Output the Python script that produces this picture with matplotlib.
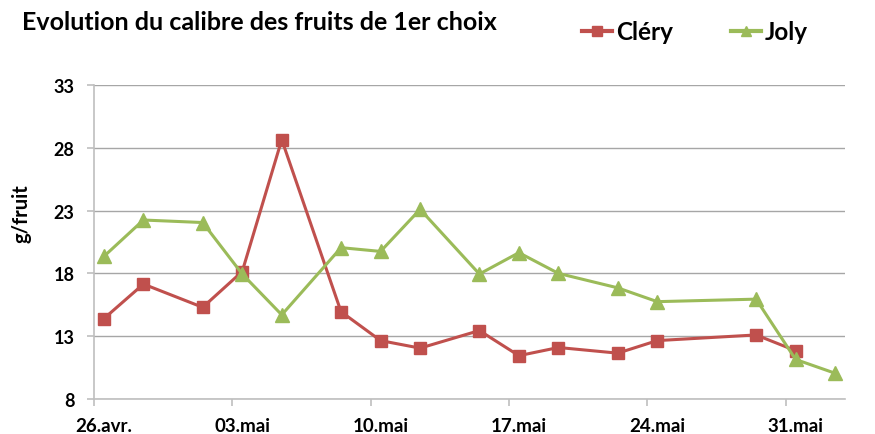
import matplotlib.pyplot as plt
import pandas as pd

# dates de mesure (points placés au milieu de la journée, comme dans Excel)
clery_dates = ['2011-04-26', '2011-04-28', '2011-05-01', '2011-05-03', '2011-05-05',
               '2011-05-08', '2011-05-10', '2011-05-12', '2011-05-15', '2011-05-17',
               '2011-05-19', '2011-05-22', '2011-05-24', '2011-05-29', '2011-05-31']
clery = [14.4, 17.15, 15.3, 18.15, 28.65, 14.95, 12.65, 12.05, 13.45, 11.45,
         12.1, 11.65, 12.65, 13.1, 11.85]

joly_dates = clery_dates + ['2011-06-02']
joly = [19.35, 22.25, 22.05, 17.95, 14.7, 20.05, 19.75, 23.1, 17.95, 19.65,
        18.0, 16.85, 15.75, 15.95, 11.15, 10.05]

tick_dates = ['2011-04-26', '2011-05-03', '2011-05-10', '2011-05-17', '2011-05-24', '2011-05-31']
tick_labels = ['26.avr.', '03.mai', '10.mai', '17.mai', '24.mai', '31.mai']

red = '#C0504D'
green = '#9BBB59'
plt.rcParams['font.family'] = ['Lato', 'DejaVu Sans']

half_day = pd.Timedelta(hours=12)
xc = pd.to_datetime(clery_dates) + half_day
xj = pd.to_datetime(joly_dates) + half_day
xt = pd.to_datetime(tick_dates)

fig = plt.figure(figsize=(8.75, 4.35), dpi=100)
ax = fig.add_axes([94 / 875, 1 - 400 / 435, (845 - 94) / 875, (400 - 86) / 435])

ax.plot(xc, clery, color=red, lw=2.2, marker='s', ms=8.5, mec=red, label='Cléry', zorder=3)
ax.plot(xj, joly, color=green, lw=2.2, marker='^', ms=9.5, mec=green, label='Joly', zorder=3)

ax.set_ylim(8, 33)
ax.set_yticks([8, 13, 18, 23, 28, 33])
ax.set_xlim(pd.Timestamp('2011-04-26'), pd.Timestamp('2011-06-03'))
# traits aux dates, étiquettes au milieu du jour
ax.set_xticks(xt)
ax.set_xticklabels([])
ax.set_xticks(xt + half_day, minor=True)
ax.set_xticklabels(tick_labels, minor=True)
ax.grid(axis='y', color='#A6A6A6', lw=1)
ax.set_axisbelow(True)

for s in ['top', 'right']:
    ax.spines[s].set_visible(False)
for s in ['left', 'bottom']:
    ax.spines[s].set_color('#BFBFBF')
    ax.spines[s].set_linewidth(1.2)
ax.tick_params(axis='both', which='major', color='#BFBFBF', length=5, width=1.2)
ax.tick_params(axis='y', labelsize=13, pad=9)
ax.tick_params(axis='x', which='minor', length=0, labelsize=13.5, pad=13)
for lab in ax.get_xticklabels(minor=True) + ax.get_yticklabels():
    lab.set_fontweight('bold')

fig.text(22 / 875, 1 - 214 / 435, 'g/fruit', fontsize=14.5, fontweight='bold',
         rotation=90, va='center', ha='center')

fig.text(22 / 875, 1 - 22 / 435, 'Evolution du calibre des fruits de 1er choix',
         fontsize=18, fontweight='bold', va='center', ha='left')

leg = fig.legend(loc='center', bbox_to_anchor=(695 / 875, 1 - 33 / 435), ncol=2,
                 frameon=False, prop={'size': 17.5, 'weight': 'bold'},
                 handlelength=1.25, columnspacing=2.4, handletextpad=0.15,
                 markerscale=0.8)
for h in leg.legend_handles:
    h.set_linewidth(3)

fig.savefig('out.png', dpi=100)
